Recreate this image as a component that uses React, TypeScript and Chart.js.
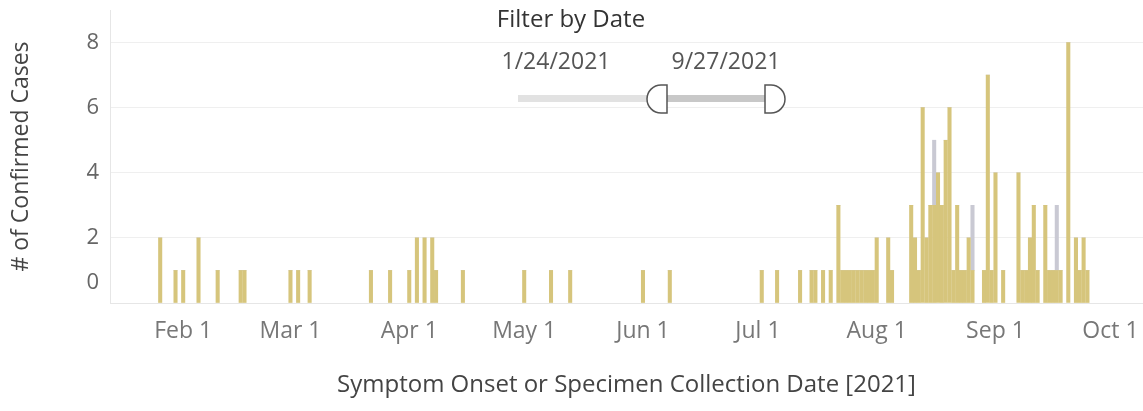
import React, { useEffect, useRef } from "react";
import { Chart, registerables } from "chart.js";

Chart.register(...registerables);

// ---- data ----
const caseDates = [
  "2021-01-26", "2021-01-30", "2021-02-01", "2021-02-05", "2021-02-10", "2021-02-16", "2021-02-17",
  "2021-03-01", "2021-03-03", "2021-03-06", "2021-03-22", "2021-03-27",
  "2021-04-01", "2021-04-03", "2021-04-05", "2021-04-07", "2021-04-08", "2021-04-15",
  "2021-05-01", "2021-05-08", "2021-05-13", "2021-06-01", "2021-06-08",
  "2021-07-02", "2021-07-06", "2021-07-12", "2021-07-15", "2021-07-16", "2021-07-18", "2021-07-20",
  "2021-07-22", "2021-07-23", "2021-07-24", "2021-07-25", "2021-07-26", "2021-07-27", "2021-07-28",
  "2021-07-29", "2021-07-30", "2021-07-31",
  "2021-08-01", "2021-08-04", "2021-08-05", "2021-08-10", "2021-08-11", "2021-08-12", "2021-08-13",
  "2021-08-14", "2021-08-15", "2021-08-16", "2021-08-17", "2021-08-18", "2021-08-19", "2021-08-20",
  "2021-08-21", "2021-08-22", "2021-08-23", "2021-08-24", "2021-08-25", "2021-08-26",
  "2021-08-29", "2021-08-30", "2021-08-31",
  "2021-09-01", "2021-09-03", "2021-09-07", "2021-09-08", "2021-09-09", "2021-09-10", "2021-09-11",
  "2021-09-12", "2021-09-14", "2021-09-15", "2021-09-16", "2021-09-17", "2021-09-18", "2021-09-20",
  "2021-09-22", "2021-09-23", "2021-09-24", "2021-09-25",
];
const confirmedCases = [
  2, 1, 1, 2, 1, 1, 1,
  1, 1, 1, 1, 1,
  1, 2, 2, 2, 1, 1,
  1, 1, 1, 1, 1,
  1, 1, 1, 1, 1, 1, 1,
  3, 1, 1, 1, 1, 1, 1,
  1, 1, 1,
  2, 2, 1, 3, 2, 1, 6,
  2, 3, 3, 4, 3, 5, 6,
  1, 3, 1, 1, 2, 1,
  1, 7, 1,
  4, 1, 4, 1, 1, 2, 3,
  1, 3, 1, 1, 1, 1, 8,
  2, 1, 2, 1,
];
const otherCases = [
  0, 0, 0, 0, 0, 0, 0,
  0, 0, 0, 0, 0,
  0, 0, 0, 0, 0, 0,
  0, 0, 0, 0, 0,
  0, 0, 0, 0, 0, 0, 0,
  0, 0, 0, 0, 0, 0, 0,
  0, 0, 0,
  0, 0, 0, 0, 0, 0, 0,
  0, 0, 2, 0, 0, 0, 0,
  0, 0, 0, 0, 0, 2,
  0, 0, 0,
  0, 0, 0, 0, 0, 0, 0,
  0, 0, 0, 0, 2, 0, 0,
  0, 0, 0, 0,
];
const yTickValues = [0, 2, 4, 6, 8];
const xTickDates = [
  "2021-02-01", "2021-03-01", "2021-04-01", "2021-05-01", "2021-06-01",
  "2021-07-01", "2021-08-01", "2021-09-01", "2021-10-01",
];
const xTickLabels = ["Feb 1", "Mar 1", "Apr 1", "May 1", "Jun 1", "Jul 1", "Aug 1", "Sep 1", "Oct 1"];
const filterTitle = "Filter by Date";
const filterStart = "1/24/2021";
const filterEnd = "9/27/2021";
const xTitle = "Symptom Onset or Specimen Collection Date [2021]";
const yTitle = "# of Confirmed Cases";

const dayIndex = (iso: string) => {
  const [y, m, d] = iso.split("-").map(Number);
  return Math.round((Date.UTC(y, m - 1, d) - Date.UTC(y, 0, 1)) / 86400000);
};

const FONT = "'Open Sans', Lato, sans-serif";
const GOLD = "#d6c57c";
const GREY = "#c9c9d3";

export default function App() {
  const ref = useRef<HTMLCanvasElement | null>(null);

  useEffect(() => {
    if (!ref.current) return;
    const xTickValues = xTickDates.map(dayIndex);

    const yLabelPlugin = {
      id: "yLabels",
      afterDraw(chart: any) {
        const s = chart.scales.y;
        const ctx = chart.ctx;
        ctx.save();
        ctx.font = `22px ${FONT}`;
        ctx.fillStyle = "#666";
        ctx.textAlign = "right";
        ctx.textBaseline = "middle";
        yTickValues.forEach((v) => {
          let y = s.getPixelForValue(v);
          if (v === 0) y -= 20;
          ctx.fillText(String(v), 99, y);
        });
        ctx.restore();
      },
    };

    const chart = new Chart(ref.current, {
      type: "bar",
      data: {
        datasets: [
          {
            label: "Confirmed",
            data: caseDates.map((d, i) => ({ x: dayIndex(d), y: confirmedCases[i] })),
            backgroundColor: GOLD,
            barThickness: 3.4,
          },
          {
            label: "Other",
            data: caseDates.map((d, i) => ({ x: dayIndex(d), y: otherCases[i] })),
            backgroundColor: GREY,
            barThickness: 3.4,
          },
        ],
      },
      options: {
        animation: false,
        responsive: true,
        maintainAspectRatio: false,
        devicePixelRatio: 1,
        layout: { padding: { top: 10, left: 0, right: 0, bottom: 0 } },
        plugins: { legend: { display: false }, tooltip: { enabled: false } },
        scales: {
          x: {
            type: "linear",
            stacked: true,
            offset: false,
            min: 11.9,
            max: 281.5,
            grid: { display: false, drawTicks: false },
            border: { display: true, color: "#e6e6e6" },
            afterBuildTicks: (scale: any) => {
              scale.ticks = xTickValues.map((v) => ({ value: v }));
            },
            afterFit: (scale: any) => {
              scale.height = 108;
              scale.paddingLeft = 0;
              scale.paddingRight = 0;
            },
            ticks: {
              autoSkip: false,
              maxRotation: 0,
              padding: 15,
              color: "#777",
              font: { family: FONT, size: 23 },
              callback: (v: any) => {
                const i = xTickValues.indexOf(Number(v));
                return i >= 0 ? xTickLabels[i] : "";
              },
            },
            title: {
              display: true,
              text: xTitle,
              color: "#444",
              font: { family: FONT, size: 24 },
              padding: { top: 0, bottom: 11 },
            },
          },
          y: {
            stacked: true,
            min: 0,
            max: 9,
            grid: { color: "#efefef", drawTicks: false },
            border: { display: true, color: "#e6e6e6" },
            afterBuildTicks: (scale: any) => {
              scale.ticks = yTickValues.map((v) => ({ value: v }));
            },
            afterFit: (scale: any) => {
              scale.width = 110;
            },
            ticks: { display: false },
            title: {
              display: true,
              text: yTitle,
              color: "#444",
              font: { family: FONT, size: 23 },
              padding: { top: 8, bottom: 0 },
            },
          },
        },
      },
      plugins: [yLabelPlugin],
    });
    return () => chart.destroy();
  }, []);

  const textBase = { position: "absolute" as const, width: 200, textAlign: "center" as const, fontFamily: FONT, lineHeight: "26px" };

  return (
    <div style={{ position: "absolute", left: 0, top: 0, width: 1143, height: 411, background: "#fff" }}>
      <canvas ref={ref} />
      <div style={{ ...textBase, left: 471, top: 5, fontSize: 24, color: "#333" }}>{filterTitle}</div>
      <div style={{ ...textBase, left: 456, top: 47, fontSize: 23, color: "#555" }}>{filterStart}</div>
      <div style={{ ...textBase, left: 626, top: 47, fontSize: 23, color: "#555" }}>{filterEnd}</div>
      <svg
        width={1143}
        height={130}
        style={{ position: "absolute", left: 0, top: 0, pointerEvents: "none" }}
      >
        <rect x={518} y={95} width={132} height={7} fill="#e2e2e2" />
        <rect x={667} y={95} width={100} height={7} fill="#c8c8c8" />
        <path d="M667,85 L661,85 A14,14 0 0 0 661,113 L667,113 Z" fill="#fff" stroke="#555" strokeWidth={1.5} />
        <path d="M765,85 L771,85 A14,14 0 0 1 771,113 L765,113 Z" fill="#fff" stroke="#555" strokeWidth={1.5} />
      </svg>
    </div>
  );
}
